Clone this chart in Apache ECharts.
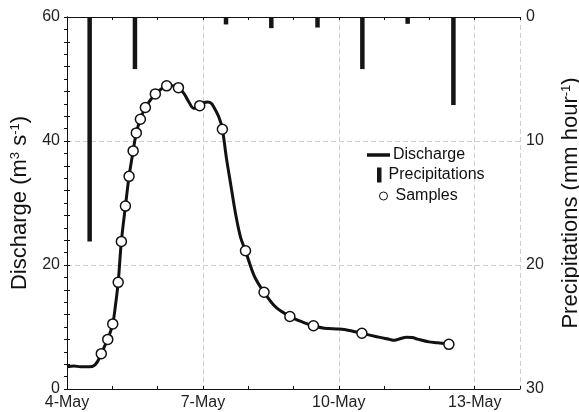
<!DOCTYPE html>
<html>
<head>
<meta charset="utf-8">
<script src="https://cdn.jsdelivr.net/npm/echarts@6/dist/echarts.min.js"></script>
<style>
html,body{margin:0;padding:0;background:#fff;}
#chart{width:579px;height:412px;}
</style>
</head>
<body>
<div id="chart"></div>
<script>
// x values are days since 4-May 00:00
const xTickLabels = ['4-May', '7-May', '10-May', '13-May'];

const dischargeDays = [0,0.15,0.3,0.5,0.6,0.68,0.757,0.83,0.90,1.01,1.07,1.13,1.20,1.29,1.37,1.46,1.53,1.62,1.73,1.84,1.95,2.08,2.20,2.33,2.46,2.58,2.69,2.79,2.86,2.93,3.02,3.11,3.18,3.24,3.35,3.43,3.52,3.61,3.72,3.83,3.94,4.13,4.35,4.61,4.92,5.2,5.44,5.68,6.01,6.23,6.51,6.79,7.0,7.12,7.23,7.35,7.49,7.62,7.74,7.99,8.18,8.43];
const dischargeValues = [3.6,3.7,3.6,3.6,3.8,4.5,5.7,6.9,8.0,10.5,13.5,17.2,23.8,29.5,34.3,38.4,41.3,43.5,45.4,46.6,47.6,48.4,48.9,48.9,48.6,47.7,46.3,45.3,45.3,45.7,46.2,46.3,46.1,45.5,43.9,41.9,37.2,33.2,28.3,24.5,22.3,18.3,15.6,13.2,11.7,10.8,10.2,9.8,9.66,9.45,9.0,8.5,8.2,8.0,7.85,8.1,8.35,8.3,8.05,7.6,7.46,7.2];

const sampleDays = [0.757,0.90,1.01,1.13,1.20,1.29,1.37,1.46,1.53,1.62,1.73,1.95,2.20,2.46,2.93,3.43,3.94,4.35,4.92,5.44,6.51,8.43];
const sampleValues = [5.7,8.0,10.5,17.2,23.8,29.5,34.3,38.4,41.3,43.5,45.4,47.6,48.9,48.6,45.7,41.9,22.3,15.6,11.7,10.2,9.0,7.2];

const precipDays = [0.5,1.5,3.51,4.51,5.53,6.52,7.52,8.53];
const precipValues = [18.1,4.2,0.6,0.9,0.85,4.2,0.55,7.1];

const zip = (a, b) => a.map((v, i) => [v, b[i]]);

const FONT = 'Liberation Sans, Arial, sans-serif';
const gridLine = {show: true, lineStyle: {color: '#cfcfcf', type: [5, 3], width: 1}};
const titleRich = {
  a: {fontSize: 22, color: '#111', fontFamily: FONT},
  s: {fontSize: 13, color: '#111', fontFamily: FONT, verticalAlign: 'top'}
};

const chart = echarts.init(document.getElementById('chart'), null, {renderer: 'canvas'});
chart.setOption({
  animation: false,
  backgroundColor: '#fff',
  textStyle: {fontFamily: FONT},
  grid: {left: 67, right: 59, top: 17, bottom: 23, containLabel: false, outerBoundsMode: 'none'},
  legend: [
    {data: [{name: 'Discharge', icon: 'rect'}], left: 367, top: 147, padding: 0, itemWidth: 23, itemHeight: 3.5, itemGap: 4,
     textStyle: {fontSize: 16, color: '#111', fontFamily: FONT, padding: [0, 0, 0, -2]}, selectedMode: false},
    {data: [{name: 'Precipitations', icon: 'rect'}], left: 377, top: 167, padding: 0, itemWidth: 4.5, itemHeight: 15,
     textStyle: {fontSize: 16, color: '#111', fontFamily: FONT, padding: [0, 0, 0, 2]}, selectedMode: false},
    {data: [{name: 'Samples', icon: 'circle'}], left: 379, top: 188, padding: 0, itemWidth: 8, itemHeight: 8,
     itemStyle: {color: '#fff', borderColor: '#111', borderWidth: 1},
     textStyle: {fontSize: 16, color: '#111', fontFamily: FONT, padding: [0, 0, 0, 3]}, selectedMode: false}
  ],
  xAxis: [
    {
      type: 'value', min: 0, max: 10, interval: 1, position: 'bottom',
      axisLine: {show: true, lineStyle: {color: '#111', width: 1}},
      axisTick: {show: true, inside: true, length: 3, lineStyle: {color: '#111'}},
      axisLabel: {
        show: true, margin: 6, fontSize: 16, color: '#222', fontFamily: FONT,
        formatter: v => (Math.round(v) % 3 === 0 && Math.round(v) / 3 < xTickLabels.length) ? xTickLabels[Math.round(v) / 3] : ''
      },
      splitLine: {show: false}
    },
    {
      type: 'value', min: 0, max: 10, interval: 1, position: 'top',
      axisLine: {show: true, lineStyle: {color: '#111', width: 1}},
      axisTick: {show: true, inside: true, length: 3, lineStyle: {color: '#111'}},
      axisLabel: {show: false},
      splitLine: {show: false}
    },
    {
      type: 'value', min: 0, max: 10, interval: 3, position: 'bottom',
      axisLine: {show: false}, axisTick: {show: false}, axisLabel: {show: false},
      splitLine: gridLine
    }
  ],
  yAxis: [
    {
      type: 'value', min: 0, max: 60, interval: 20, position: 'left',
      name: '{a|Discharge (m}{s|3}{a| s}{s|-1}{a|)}',
      nameLocation: 'middle', nameRotate: 90, nameGap: 29,
      nameTextStyle: {color: '#111', fontFamily: FONT, rich: titleRich},
      axisLine: {show: true, lineStyle: {color: '#111', width: 1}},
      axisTick: {show: true, inside: true, length: 3, lineStyle: {color: '#111'}},
      minorTick: {show: true, splitNumber: 5, length: 3, lineStyle: {color: '#111'}},
      axisLabel: {margin: 7, fontSize: 16, color: '#222', fontFamily: FONT},
      splitLine: gridLine
    },
    {
      type: 'value', min: 0, max: 30, interval: 10, position: 'right', inverse: true,
      name: '{a|Precipitations (mm hour}{s|-1}{a|)}',
      nameLocation: 'middle', nameRotate: 90, nameGap: 40,
      nameTextStyle: {color: '#111', fontFamily: FONT, rich: titleRich},
      axisLine: {show: true, lineStyle: {color: '#111', width: 1}},
      axisTick: {show: true, inside: true, length: 3, lineStyle: {color: '#111'}},
      minorTick: {show: true, splitNumber: 10, length: 3, lineStyle: {color: '#111'}},
      axisLabel: {margin: 6, fontSize: 16, color: '#222', fontFamily: FONT},
      splitLine: {show: false}
    }
  ],
  series: [
    {
      name: 'Precipitations', type: 'bar', xAxisIndex: 0, yAxisIndex: 1,
      data: zip(precipDays, precipValues), barWidth: 4.5,
      itemStyle: {color: '#151515'}, z: 2
    },
    {
      name: 'Discharge', type: 'line', xAxisIndex: 0, yAxisIndex: 0,
      data: zip(dischargeDays, dischargeValues), smooth: 0.3,
      showSymbol: false, symbol: 'none',
      lineStyle: {color: '#111', width: 3}, itemStyle: {color: '#111'}, z: 3
    },
    {
      name: 'Samples', type: 'scatter', xAxisIndex: 0, yAxisIndex: 0,
      data: zip(sampleDays, sampleValues), symbol: 'circle', symbolSize: 10,
      itemStyle: {color: '#fff', borderColor: '#111', borderWidth: 1.5, opacity: 1}, z: 4
    }
  ]
});
</script>
</body>
</html>
